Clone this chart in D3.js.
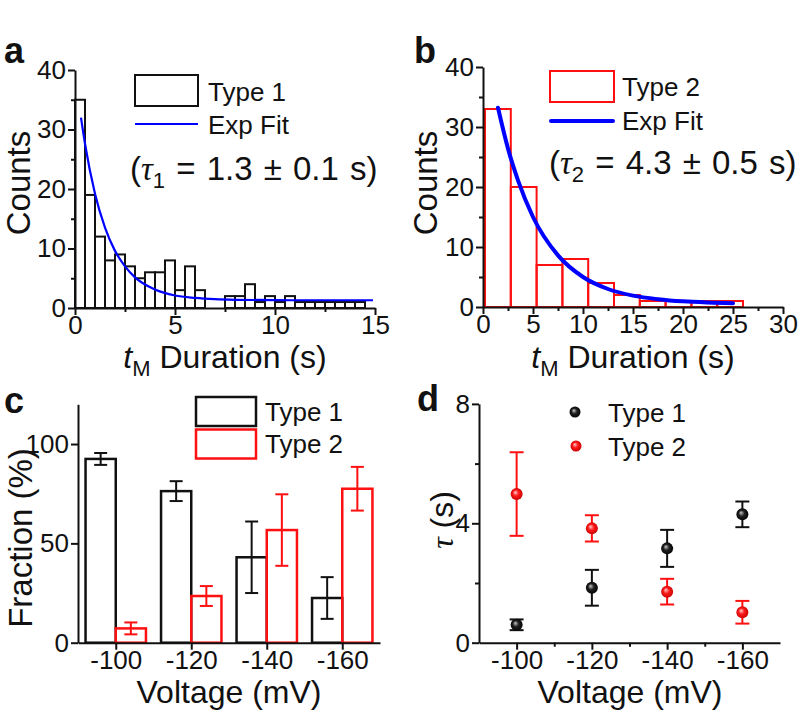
<!DOCTYPE html>
<html>
<head>
<meta charset="utf-8">
<script src="https://cdn.jsdelivr.net/npm/d3@7"></script>
<style>
  html, body { margin: 0; padding: 0; background: #fff; }
  svg { display: block; }
  text { font-family: "Liberation Sans", Arial, sans-serif; fill: #111; }
</style>
</head>
<body>
<svg id="chart" width="800" height="716"></svg>
<script>
// ---------------- DATA ----------------
// Panel a: Type 1 dwell-time histogram (bin start 0 s, width 0.5 s)
const histA_binStart = 0;
const histA_binWidth = 0.5;
const histA_counts = [35,19,12,8,9,7,5,6,6,8,3,7,3,0,0,2,2,4,1,2,1,2,1,1,1,1,1,1,1,0];
// Panel a exponential fit
const fitA_t = [0.3,0.5,1,1.5,2,2.5,3,4,5,6,7,8,10,12,14.9];
const fitA_y = [32,27.6,19.2,13.5,9.6,7.0,5.15,3.1,2.1,1.7,1.48,1.38,1.32,1.3,1.3];

// Panel b: Type 2 dwell-time histogram (bin start 0.2 s, width 2.58 s)
const histB_binStart = 0.2;
const histB_binWidth = 2.58;
const histB_counts = [33,20,7,8,4,2,1,1,1,1];
// Panel b exponential fit
const fitB_t = [1.5,2.5,3.5,5,7.5,10,12.5,15,17.5,20,22.5,25];
const fitB_y = [33.2,26.4,21.1,15.0,8.6,5.0,3.0,1.9,1.3,0.94,0.75,0.64];

// Panel c: fraction of types vs voltage
const voltages = [-100,-120,-140,-160];
const fracType1 = [92.5,76.3,43,22.5];
const fracType1Err = [3,5,18,10.5];
const fracType2 = [7.2,23.5,56.7,77.5];
const fracType2Err = [3,5,18,11];

// Panel d: tau vs voltage
const tauType1 = [0.6,1.84,3.16,4.3];
const tauType1Err = [0.18,0.6,0.62,0.43];
const tauType2 = [4.98,3.83,1.71,1.02];
const tauType2Err = [1.4,0.44,0.43,0.38];

// Tick labels
const ticksCounts = [0,10,20,30,40];
const ticksDurA = [0,5,10,15];
const ticksDurB = [0,5,10,15,20,25,30];
const ticksFrac = [0,50,100];
const ticksTau = [0,4,8];

// ---------------- DRAW ----------------
const svg = d3.select('#chart');
const RED = '#ff1010', BLUE = '#0000ff', INK = '#111';
const fmt = d => String(d); // plain hyphen-minus like the reference

function styleAxis(sel, fs) {
  sel.select('.domain').attr('stroke', INK).attr('stroke-width', 2);
  sel.selectAll('.tick line').attr('stroke', INK).attr('stroke-width', 2);
  sel.selectAll('.tick text').attr('font-size', fs).attr('fill', INK)
     .attr('font-family', '"Liberation Sans", Arial, sans-serif');
}
function xAxis(y0, x, majors, minors) {
  const g = svg.append('g').attr('transform', `translate(0,${y0})`);
  if (minors && minors.length) {
    const m = g.append('g').call(d3.axisBottom(x).tickValues(minors).tickSize(4).tickFormat(''));
    m.select('.domain').remove();
    m.selectAll('.tick line').attr('stroke', INK).attr('stroke-width', 2);
  }
  const a = g.append('g').call(d3.axisBottom(x).tickValues(majors).tickSize(7).tickSizeOuter(0).tickPadding(1).tickFormat(fmt));
  styleAxis(a, 26);
}
function yAxis(x0, y, majors, minors) {
  const g = svg.append('g').attr('transform', `translate(${x0},0)`);
  if (minors && minors.length) {
    const m = g.append('g').call(d3.axisLeft(y).tickValues(minors).tickSize(4).tickFormat(''));
    m.select('.domain').remove();
    m.selectAll('.tick line').attr('stroke', INK).attr('stroke-width', 2);
  }
  const a = g.append('g').call(d3.axisLeft(y).tickValues(majors).tickSize(7).tickSizeOuter(0).tickPadding(2).tickFormat(fmt));
  styleAxis(a, 26);
}
function panelLabel(x, y, s) {
  svg.append('text').attr('x', x).attr('y', y).attr('font-size', 36).attr('font-weight', 'bold').text(s);
}
function yTitle(x, y, s) {
  return svg.append('text').attr('transform', `translate(${x},${y}) rotate(-90)`)
    .attr('text-anchor', 'middle').attr('font-size', 33).text(s);
}
function durTitle(cx, y) {
  const t = svg.append('text').attr('x', cx).attr('y', y).attr('text-anchor', 'middle').attr('font-size', 32);
  t.append('tspan').attr('font-style', 'italic').text('t');
  t.append('tspan').attr('font-size', 22).attr('dy', 8).text('M');
  t.append('tspan').attr('dy', -8).text(' Duration (s)');
}
function tauText(x, y, sub, rest) {
  const t = svg.append('text').attr('x', x).attr('y', y).attr('font-size', 33).attr('word-spacing', 2);
  t.append('tspan').text('(');
  t.append('tspan').attr('font-family', '"Liberation Serif", "Times New Roman", serif').attr('font-style', 'italic').text('τ');
  t.append('tspan').attr('font-size', 22).attr('dy', 8).text(sub);
  t.append('tspan').attr('dy', -8).text(rest);
}

// ===== Panel a =====
const xa = d3.scaleLinear().domain([0, 15]).range([75, 375]);
const ya = d3.scaleLinear().domain([0, 40]).range([308, 70]);
svg.append('g').selectAll('rect').data(histA_counts).join('rect')
  .attr('x', (d, i) => xa(histA_binStart + i * histA_binWidth))
  .attr('width', xa(histA_binWidth) - xa(0))
  .attr('y', d => ya(d)).attr('height', d => ya(0) - ya(d))
  .attr('fill', 'none').attr('stroke', d => d > 0 ? INK : 'none').attr('stroke-width', 2);
svg.append('path').datum(fitA_t.map((t, i) => [t, fitA_y[i]]))
  .attr('d', d3.line().x(d => xa(d[0])).y(d => ya(d[1])).curve(d3.curveMonotoneX))
  .attr('fill', 'none').attr('stroke', BLUE).attr('stroke-width', 2.2);
xAxis(308, xa, ticksDurA, [2.5, 7.5, 12.5]);
yAxis(75, ya, ticksCounts, [5, 15, 25, 35]);
panelLabel(4, 63, 'a');
yTitle(30, 183, 'Counts');
durTitle(225, 368);
svg.append('rect').attr('x', 135).attr('y', 75).attr('width', 63).attr('height', 31)
  .attr('fill', 'none').attr('stroke', INK).attr('stroke-width', 2);
svg.append('text').attr('x', 208).attr('y', 101).attr('font-size', 26).text('Type 1');
svg.append('line').attr('x1', 135).attr('x2', 198).attr('y1', 124).attr('y2', 124)
  .attr('stroke', BLUE).attr('stroke-width', 2.2);
svg.append('text').attr('x', 208).attr('y', 134).attr('font-size', 26).text('Exp Fit');
tauText(130, 180, '1', ' = 1.3 ± 0.1 s)');

// ===== Panel b =====
const xb = d3.scaleLinear().domain([0, 30]).range([483, 783]);
const yb = d3.scaleLinear().domain([0, 40]).range([307, 67]);
svg.append('g').selectAll('rect').data(histB_counts).join('rect')
  .attr('x', (d, i) => xb(histB_binStart + i * histB_binWidth))
  .attr('width', xb(histB_binWidth) - xb(0))
  .attr('y', d => yb(d)).attr('height', d => yb(0) - yb(d))
  .attr('fill', 'none').attr('stroke', RED).attr('stroke-width', 2);
svg.append('path').datum(fitB_t.map((t, i) => [t, fitB_y[i]]))
  .attr('d', d3.line().x(d => xb(d[0])).y(d => yb(d[1])).curve(d3.curveMonotoneX))
  .attr('fill', 'none').attr('stroke', BLUE).attr('stroke-width', 4).attr('stroke-linecap', 'round');
xAxis(307, xb, ticksDurB, [2.5, 7.5, 12.5, 17.5, 22.5, 27.5]);
yAxis(483, yb, ticksCounts, [5, 15, 25, 35]);
panelLabel(414, 63, 'b');
yTitle(437, 183, 'Counts');
durTitle(633, 368);
svg.append('rect').attr('x', 550).attr('y', 71).attr('width', 64).attr('height', 31)
  .attr('fill', 'none').attr('stroke', RED).attr('stroke-width', 2);
svg.append('text').attr('x', 622).attr('y', 96).attr('font-size', 26).text('Type 2');
svg.append('line').attr('x1', 551).attr('x2', 613).attr('y1', 121).attr('y2', 121)
  .attr('stroke', BLUE).attr('stroke-width', 4).attr('stroke-linecap', 'round');
svg.append('text').attr('x', 622).attr('y', 130).attr('font-size', 26).text('Exp Fit');
tauText(549, 174, '2', ' = 4.3 ± 0.5 s)');

// ===== Panel c =====
const xc = d3.scaleLinear().domain([-90, -170]).range([78, 380]);
const yc = d3.scaleLinear().domain([0, 120]).range([642.7, 404.3]);
const barHalf = 8; // mV width of each bar
const gc = svg.append('g');
function errBar(g, cx, yv, e, scaleY, color, cap) {
  g.append('line').attr('x1', cx).attr('x2', cx).attr('y1', scaleY(yv - e)).attr('y2', scaleY(yv + e))
    .attr('stroke', color).attr('stroke-width', 2);
  [yv - e, yv + e].forEach(v => g.append('line').attr('x1', cx - cap).attr('x2', cx + cap)
    .attr('y1', scaleY(v)).attr('y2', scaleY(v)).attr('stroke', color).attr('stroke-width', 2));
}
voltages.forEach((v, i) => {
  gc.append('rect').attr('x', xc(v + barHalf)).attr('width', xc(v) - xc(v + barHalf))
    .attr('y', yc(fracType1[i])).attr('height', yc(0) - yc(fracType1[i]))
    .attr('fill', 'none').attr('stroke', INK).attr('stroke-width', 2.5);
  gc.append('rect').attr('x', xc(v)).attr('width', xc(v - barHalf) - xc(v))
    .attr('y', yc(fracType2[i])).attr('height', yc(0) - yc(fracType2[i]))
    .attr('fill', 'none').attr('stroke', RED).attr('stroke-width', 2.5);
});
voltages.forEach((v, i) => {
  errBar(gc, (xc(v + barHalf) + xc(v)) / 2, fracType1[i], fracType1Err[i], yc, INK, 6.5);
  errBar(gc, (xc(v) + xc(v - barHalf)) / 2, fracType2[i], fracType2Err[i], yc, RED, 6.5);
});
xAxis(642.7, xc, voltages, []);
yAxis(78, yc, ticksFrac, []);
panelLabel(4, 413, 'c');
yTitle(32, 538, 'Fraction (%)');
svg.append('text').attr('x', 229).attr('y', 703).attr('text-anchor', 'middle').attr('font-size', 32).text('Voltage (mV)');
svg.append('rect').attr('x', 196).attr('y', 397).attr('width', 60).attr('height', 29)
  .attr('fill', 'none').attr('stroke', INK).attr('stroke-width', 2.5);
svg.append('rect').attr('x', 196).attr('y', 429.5).attr('width', 60).attr('height', 29)
  .attr('fill', 'none').attr('stroke', RED).attr('stroke-width', 2.5);
svg.append('text').attr('x', 265).attr('y', 421).attr('font-size', 26).text('Type 1');
svg.append('text').attr('x', 265).attr('y', 453).attr('font-size', 26).text('Type 2');

// ===== Panel d =====
const xd = d3.scaleLinear().domain([-90, -170]).range([479, 780]);
const yd = d3.scaleLinear().domain([0, 8]).range([642.7, 403.9]);
const defs = svg.append('defs');
function sphere(id, hi, mid, lo) {
  const g = defs.append('radialGradient').attr('id', id).attr('cx', '50%').attr('cy', '50%').attr('r', '55%')
    .attr('fx', '38%').attr('fy', '35%');
  g.append('stop').attr('offset', '0%').attr('stop-color', hi);
  g.append('stop').attr('offset', '45%').attr('stop-color', mid);
  g.append('stop').attr('offset', '100%').attr('stop-color', lo);
}
sphere('gBlack', '#c8c8c8', '#202020', '#000');
sphere('gRed', '#ffd0d0', '#ff1a1a', '#c00000');
const gd = svg.append('g');
voltages.forEach((v, i) => {
  errBar(gd, xd(v), tauType1[i], tauType1Err[i], yd, INK, 7);
  errBar(gd, xd(v), tauType2[i], tauType2Err[i], yd, RED, 7);
});
gd.selectAll('circle.t1').data(voltages).join('circle').attr('class', 't1')
  .attr('cx', d => xd(d)).attr('cy', (d, i) => yd(tauType1[i])).attr('r', 6).attr('fill', 'url(#gBlack)');
gd.selectAll('circle.t2').data(voltages).join('circle').attr('class', 't2')
  .attr('cx', d => xd(d)).attr('cy', (d, i) => yd(tauType2[i])).attr('r', 6).attr('fill', 'url(#gRed)');
xAxis(642.7, xd, voltages, [-110, -130, -150]);
yAxis(479, yd, ticksTau, [2, 6]);
panelLabel(417, 411, 'd');
const td = svg.append('text').attr('transform', 'translate(453,520) rotate(-90)')
  .attr('text-anchor', 'middle').attr('font-size', 32);
td.append('tspan').attr('font-family', '"Liberation Serif", "Times New Roman", serif').attr('font-style', 'italic').text('τ');
td.append('tspan').text(' (s)');
svg.append('text').attr('x', 630).attr('y', 703).attr('text-anchor', 'middle').attr('font-size', 32).text('Voltage (mV)');
svg.append('circle').attr('cx', 575).attr('cy', 412).attr('r', 5.5).attr('fill', 'url(#gBlack)');
svg.append('circle').attr('cx', 576).attr('cy', 446).attr('r', 5.5).attr('fill', 'url(#gRed)');
svg.append('text').attr('x', 608).attr('y', 422).attr('font-size', 26).text('Type 1');
svg.append('text').attr('x', 608).attr('y', 456).attr('font-size', 26).text('Type 2');
</script>
</body>
</html>
